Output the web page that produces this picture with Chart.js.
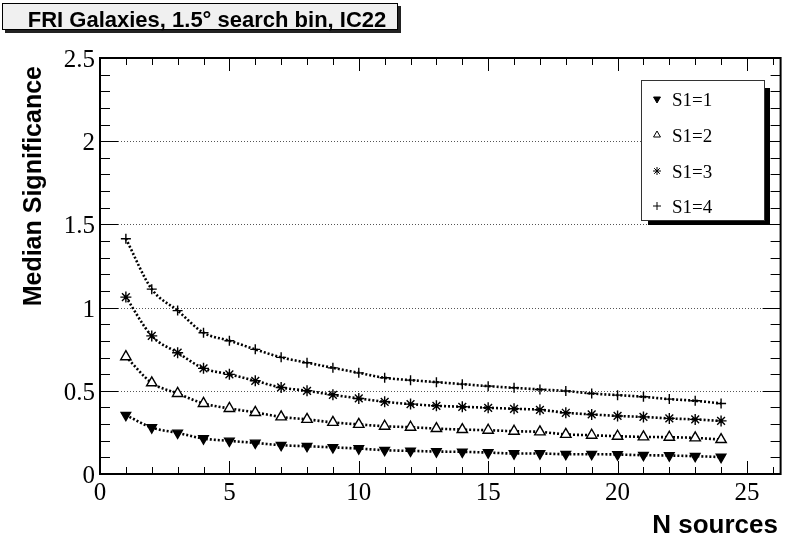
<!DOCTYPE html>
<html>
<head>
<meta charset="utf-8">
<script src="https://cdn.jsdelivr.net/npm/chart.js@4.4.1/dist/chart.umd.min.js"></script>
<style>
  html, body { margin: 0; padding: 0; background: #fff; }
</style>
</head>
<body>
<canvas id="c" width="788" height="550"></canvas>
<script>
// values
const nSources = [1, 2, 3, 4, 5, 6, 7, 8, 9, 10, 11, 12, 13, 14, 15, 16, 17, 18, 19, 20, 21, 22, 23, 24];
const s1_1 = [0.354, 0.279, 0.247, 0.213, 0.199, 0.187, 0.173, 0.167, 0.160, 0.153, 0.143, 0.139, 0.135, 0.133, 0.129, 0.123, 0.123, 0.119, 0.119, 0.117, 0.113, 0.111, 0.107, 0.102];
const s1_2 = [0.705, 0.548, 0.484, 0.424, 0.394, 0.370, 0.343, 0.328, 0.310, 0.298, 0.287, 0.281, 0.273, 0.267, 0.263, 0.257, 0.253, 0.238, 0.233, 0.227, 0.223, 0.221, 0.217, 0.207];
const s1_3 = [1.063, 0.830, 0.729, 0.635, 0.599, 0.560, 0.520, 0.500, 0.476, 0.454, 0.434, 0.420, 0.410, 0.404, 0.398, 0.392, 0.386, 0.368, 0.358, 0.349, 0.343, 0.334, 0.328, 0.319];
const s1_4 = [1.414, 1.111, 0.982, 0.849, 0.801, 0.749, 0.701, 0.669, 0.638, 0.608, 0.578, 0.564, 0.552, 0.540, 0.528, 0.518, 0.508, 0.499, 0.484, 0.474, 0.464, 0.450, 0.440, 0.424];
const seriesNames = ["S1=1", "S1=2", "S1=3", "S1=4"];
const xTickLabels = ["0", "5", "10", "15", "20", "25"];
const yTickLabels = ["0", "0.5", "1", "1.5", "2", "2.5"];
const gridValues = [0.5, 1, 1.5, 2];
const titleText = "FRI Galaxies, 1.5\u00b0 search bin, IC22";
const xTitle = "N sources";
const yTitle = "Median Significance";

const markers = [
    {pointStyle: "triangle", rotation: 180, fill: "#000", radius: 5.5},
    {pointStyle: "triangle", rotation: 0, fill: "#fff", radius: 6},
    {pointStyle: "star", rotation: 0, fill: "#000", radius: 5.5},
    {pointStyle: "cross", rotation: 0, fill: "#000", radius: 5}
];

function makeSet(vals, i) {
    var m = markers[i];
    return {
        label: seriesNames[i],
        data: nSources.map((n, k) => ({x: n, y: vals[k]})),
        borderColor: "#000",
        borderWidth: 2.6,
        borderDash: [2, 2],
        cubicInterpolationMode: "monotone",
        pointStyle: m.pointStyle,
        pointRotation: m.rotation,
        pointRadius: m.radius,
        pointBackgroundColor: m.fill,
        pointBorderColor: "#000",
        pointBorderWidth: 1.4,
        fill: false
    };
}

const rootFrame = {
    id: "rootFrame",
    beforeDatasetsDraw(chart) {
        var ctx = chart.ctx, a = chart.chartArea, y = chart.scales.y;
        ctx.save();
        ctx.strokeStyle = "#555";
        ctx.lineWidth = 1;
        ctx.setLineDash([1, 2]);
        gridValues.forEach(v => {
            var py = Math.round(y.getPixelForValue(v)) + 0.5;
            ctx.beginPath();
            ctx.moveTo(a.left, py);
            ctx.lineTo(a.right, py);
            ctx.stroke();
        });
        ctx.restore();
    },
    afterDraw(chart) {
        var ctx = chart.ctx, a = chart.chartArea, x = chart.scales.x, y = chart.scales.y;
        ctx.save();
        ctx.setLineDash([]);
        ctx.strokeStyle = "#000";

        // ticks, inside the frame on all four sides
        ctx.lineWidth = 1;
        ctx.beginPath();
        for (var i = 0; i <= 26; i++) {
            var px = Math.round(x.getPixelForValue(i)) + 0.5;
            var len = i % 5 === 0 ? 13 : 7;
            ctx.moveTo(px, a.bottom); ctx.lineTo(px, a.bottom - len);
            ctx.moveTo(px, a.top); ctx.lineTo(px, a.top + len);
        }
        for (var j = 0; j <= 25; j++) {
            var py = Math.round(y.getPixelForValue(j / 10)) + 0.5;
            var ylen = j % 5 === 0 ? 18 : 10;
            ctx.moveTo(a.left, py); ctx.lineTo(a.left + ylen, py);
            ctx.moveTo(a.right, py); ctx.lineTo(a.right - ylen, py);
        }
        ctx.stroke();

        ctx.lineWidth = 2;
        ctx.strokeRect(a.left, a.top, a.right - a.left, a.bottom - a.top);

        // tick labels
        ctx.fillStyle = "#000";
        ctx.font = "25px 'Liberation Serif', 'Times New Roman', serif";
        ctx.textAlign = "right";
        ctx.textBaseline = "alphabetic";
        yTickLabels.forEach(t => {
            ctx.fillText(t, a.left - 5, y.getPixelForValue(parseFloat(t)) + 9);
        });
        ctx.textAlign = "center";
        xTickLabels.forEach(t => {
            ctx.fillText(t, x.getPixelForValue(parseFloat(t)), a.bottom + 26);
        });

        // axis titles
        ctx.font = "bold 26px 'Liberation Sans', Arial, sans-serif";
        ctx.textAlign = "right";
        ctx.fillText(xTitle, 778, 533);
        ctx.save();
        ctx.translate(41, 66);
        ctx.rotate(-Math.PI / 2);
        ctx.font = "bold 25px 'Liberation Sans', Arial, sans-serif";
        ctx.textAlign = "right";
        ctx.fillText(yTitle, 0, 0);
        ctx.restore();

        // title box
        ctx.fillStyle = "#222";
        ctx.fillRect(5, 6, 396, 27);
        ctx.fillStyle = "#f0f0f0";
        ctx.fillRect(2, 3, 396, 27);
        ctx.lineWidth = 1;
        ctx.strokeStyle = "#000";
        ctx.strokeRect(2.5, 3.5, 395, 26);
        ctx.fillStyle = "#000";
        ctx.font = "bold 22px 'Liberation Sans', Arial, sans-serif";
        ctx.textAlign = "center";
        ctx.fillText(titleText, 207, 27);

        // legend box
        ctx.fillStyle = "#000";
        ctx.fillRect(648, 88, 122, 137);
        ctx.fillStyle = "#fff";
        ctx.fillRect(641, 80, 124, 141);
        ctx.strokeStyle = "#333";
        ctx.lineWidth = 1;
        ctx.strokeRect(641.5, 80.5, 123, 140);
        var rows = [99, 135, 171, 206];
        ctx.font = "19px 'Liberation Serif', 'Times New Roman', serif";
        ctx.textAlign = "left";
        seriesNames.forEach((name, k) => {
            var m = markers[k];
            ctx.fillStyle = m.fill;
            ctx.strokeStyle = "#000";
            ctx.lineWidth = 1;
            Chart.helpers.drawPoint(ctx, {pointStyle: m.pointStyle, rotation: m.rotation, radius: 4, borderWidth: 1}, 657, rows[k]);
            ctx.fillStyle = "#000";
            ctx.fillText(name, 672, rows[k] + 7);
        });
        ctx.restore();
    }
};

new Chart(document.getElementById("c"), {
    type: "line",
    data: {
        datasets: [makeSet(s1_1, 0), makeSet(s1_2, 1), makeSet(s1_3, 2), makeSet(s1_4, 3)]
    },
    options: {
        responsive: false,
        animation: false,
        events: [],
        layout: {padding: {left: 100, top: 58, right: -2, bottom: 76}},
        scales: {
            x: {type: "linear", min: 0, max: 26.3, display: false},
            y: {type: "linear", min: 0, max: 2.5, display: false}
        },
        plugins: {
            legend: {display: false},
            tooltip: {enabled: false}
        }
    },
    plugins: [rootFrame]
});
</script>
</body>
</html>
